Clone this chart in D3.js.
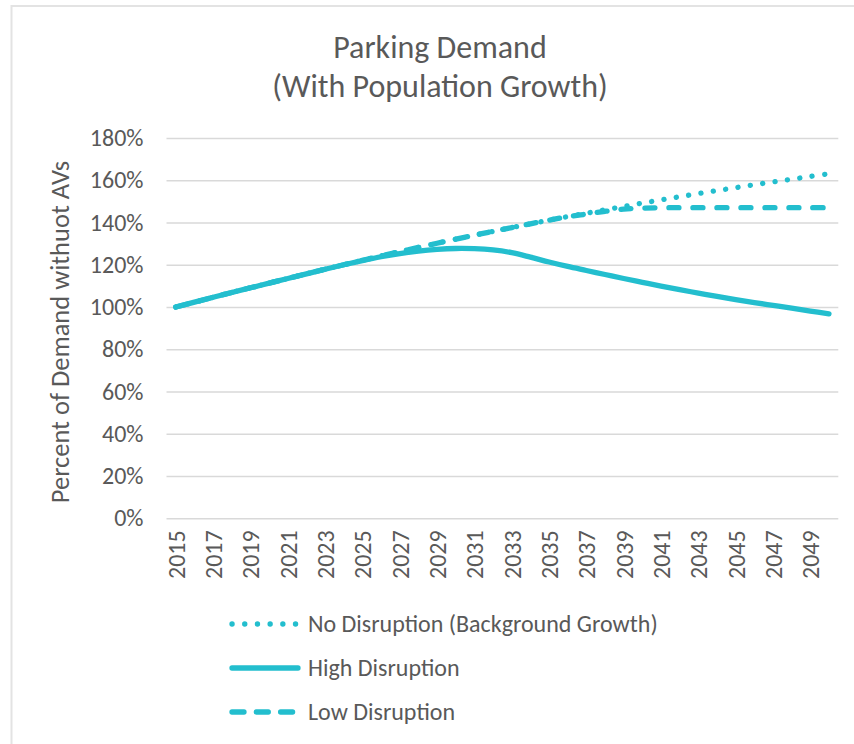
<!DOCTYPE html>
<html>
<head>
<meta charset="utf-8">
<script src="https://cdn.jsdelivr.net/npm/d3@7/dist/d3.min.js"></script>
<style>
  html, body { margin: 0; padding: 0; background: #ffffff; }
  svg { display: block; }
  text { font-family: Carlito, Calibri, "Open Sans", sans-serif; fill: #595959; }
</style>
</head>
<body>
<svg id="chart" width="854" height="744"></svg>
<script>
const years = d3.range(2015, 2051);
const tickYears = [2015, 2017, 2019, 2021, 2023, 2025, 2027, 2029, 2031, 2033, 2035, 2037, 2039, 2041, 2043, 2045, 2047, 2049];
const yTicks = [0, 0.2, 0.4, 0.6, 0.8, 1.0, 1.2, 1.4, 1.6, 1.8];

const noDisruption = [100, 102.3, 104.6, 106.9, 109.1, 111.3, 113.5, 115.7, 117.9, 120.0,
  122.1, 124.2, 126.2, 128.2, 130.2, 132.1, 134.0, 135.8, 137.6, 139.4,
  141.1, 142.8, 144.4, 146.0, 147.6, 149.2, 150.7, 152.2, 153.7, 155.1,
  156.5, 157.9, 159.2, 160.5, 161.8, 163.1];
const highDisruption = [100, 102.3, 104.6, 106.9, 109.1, 111.3, 113.5, 115.7, 117.9, 120.0,
  122.0, 123.8, 125.3, 126.5, 127.3, 127.7, 127.6, 127.0, 125.7, 123.6,
  121.3, 119.2, 117.3, 115.4, 113.5, 111.7, 109.9, 108.2, 106.6, 105.0,
  103.5, 102.1, 100.8, 99.5, 98.1, 96.8];
const lowDisruption = [100, 102.3, 104.6, 106.9, 109.1, 111.3, 113.5, 115.7, 117.9, 120.0,
  122.1, 124.2, 126.2, 128.2, 130.2, 132.1, 134.0, 135.8, 137.6, 139.4,
  141.1, 142.7, 144.0, 145.3, 146.3, 146.8, 147.0, 147.0, 147.0, 147.0,
  147.0, 147.0, 147.0, 147.0, 147.0, 147.0];

const seriesNames = ["No Disruption (Background Growth)", "High Disruption", "Low Disruption"];
const seriesValues = [noDisruption, highDisruption, lowDisruption];
const seriesDash = ["0.1 12.4", null, "10 14"];
const legendDash = ["0.1 12.6", null, "12 12.3"];
const lineColor = "#23BECE";

const svg = d3.select("#chart");

// outer chart border
svg.append("rect")
  .attr("x", 11.5).attr("y", 6)
  .attr("width", 900).attr("height", 800)
  .attr("fill", "none").attr("stroke", "#e3e3e3").attr("stroke-width", 2);

const plotLeft = 166.5, plotRight = 838.3, plotTop = 138, plotBottom = 518.3;

const x = d3.scalePoint().domain(years).range([plotLeft, plotRight]).padding(0.5);
const y = d3.scaleLinear().domain([0, 1.8]).range([plotBottom, plotTop]);

// gridlines
svg.append("g")
  .attr("transform", `translate(${plotLeft},0)`)
  .call(d3.axisLeft(y).tickValues(yTicks).tickSize(-(plotRight - plotLeft)).tickFormat(""))
  .call(g => g.select(".domain").remove())
  .call(g => g.selectAll(".tick line").attr("stroke", "#d9d9d9").attr("stroke-width", 1.5));

// y axis labels
svg.append("g")
  .attr("transform", `translate(${plotLeft},0)`)
  .call(d3.axisLeft(y).tickValues(yTicks).tickSize(0).tickPadding(23).tickFormat(d3.format(".0%")))
  .call(g => g.select(".domain").remove())
  .call(g => g.selectAll(".tick text").attr("font-size", 24).attr("fill", "#595959")
    .style("font-family", "Carlito, Calibri, 'Open Sans', sans-serif"));

// x axis labels
svg.append("g")
  .attr("transform", `translate(0,${plotBottom})`)
  .call(d3.axisBottom(x).tickValues(tickYears).tickSize(0).tickFormat(d3.format("d")))
  .call(g => g.select(".domain").remove())
  .call(g => g.selectAll(".tick text")
    .attr("font-size", 24).attr("fill", "#595959")
    .style("font-family", "Carlito, Calibri, 'Open Sans', sans-serif")
    .attr("text-anchor", "end")
    .attr("dy", "0.35em")
    .attr("transform", "translate(0,12) rotate(-90)")
    .attr("x", 0).attr("y", 0));

// lines
const line = d3.line()
  .x((d, i) => x(years[i]))
  .y(d => y(d / 100))
  .curve(d3.curveCatmullRom.alpha(0.5));

seriesValues.forEach((vals, k) => {
  const p = svg.append("path")
    .datum(vals)
    .attr("d", line)
    .attr("fill", "none")
    .attr("stroke", lineColor)
    .attr("stroke-width", 5.3)
    .attr("stroke-linecap", "round")
    .attr("stroke-linejoin", "round");
  if (seriesDash[k]) p.attr("stroke-dasharray", seriesDash[k]);
});

// title
const title = svg.append("text")
  .attr("x", 440).attr("text-anchor", "middle")
  .attr("font-size", 32).attr("fill", "#595959");
title.append("tspan").attr("x", 440).attr("y", 58).text("Parking Demand");
title.append("tspan").attr("x", 440).attr("y", 97).text("(With Population Growth)");

// y axis title
svg.append("text")
  .attr("transform", "translate(69,332) rotate(-90)")
  .attr("text-anchor", "middle")
  .attr("font-size", 26.5).attr("fill", "#595959")
  .text("Percent of Demand withuot AVs");

// legend
const legendY = [624, 668, 712];
seriesNames.forEach((name, k) => {
  const g = svg.append("g").attr("transform", `translate(0,${legendY[k]})`);
  const l = g.append("line")
    .attr("x1", 232).attr("x2", 298).attr("y1", 0).attr("y2", 0)
    .attr("stroke", lineColor).attr("stroke-width", 5.3)
    .attr("stroke-linecap", "round");
  if (legendDash[k]) l.attr("stroke-dasharray", legendDash[k]);
  g.append("text")
    .attr("x", 308).attr("y", 0).attr("dy", "0.35em")
    .attr("font-size", 24).attr("fill", "#595959")
    .text(name);
});
</script>
</body>
</html>
